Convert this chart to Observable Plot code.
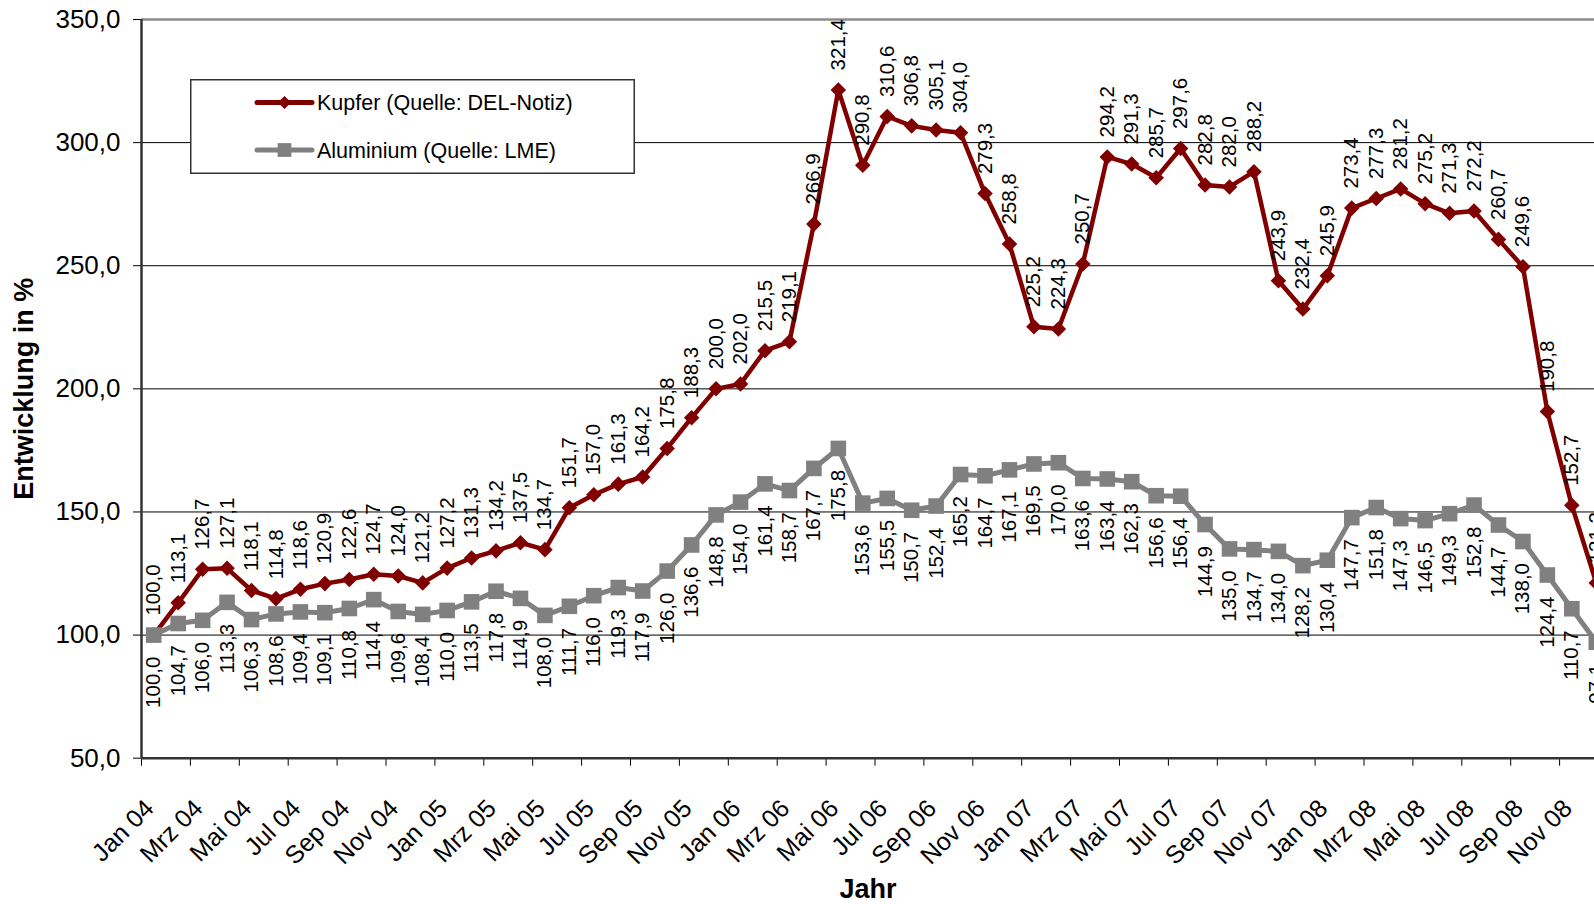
<!DOCTYPE html>
<html><head><meta charset="utf-8">
<script src="https://cdn.jsdelivr.net/npm/d3@7"></script>
<script src="https://cdn.jsdelivr.net/npm/@observablehq/plot@0.6"></script>
<style>
html,body{margin:0;padding:0;background:#fff;overflow:hidden;}
#chart{position:relative;width:1594px;height:904px;font-family:"Liberation Sans",Arial,sans-serif;}
#chart svg{display:block;}
#legend{position:absolute;left:190px;top:79px;}
</style></head><body>
<div id="chart"></div>
<script>
// ---- data ----
const monthNames = ["Jan","Feb","Mrz","Apr","Mai","Jun","Jul","Aug","Sep","Okt","Nov","Dez"];
const years = ["04","05","06","07","08"];
const months = years.flatMap(y => monthNames.map(m => m + " " + y));

const kupfer = [
  100.0,113.1,126.7,127.1,118.1,114.8,118.6,120.9,122.6,124.7,124.0,121.2,
  127.2,131.3,134.2,137.5,134.7,151.7,157.0,161.3,164.2,175.8,188.3,200.0,
  202.0,215.5,219.1,266.9,321.4,290.8,310.6,306.8,305.1,304.0,279.3,258.8,
  225.2,224.3,250.7,294.2,291.3,285.7,297.6,282.8,282.0,288.2,243.9,232.4,
  245.9,273.4,277.3,281.2,275.2,271.3,272.2,260.7,249.6,190.8,152.7,121.2
];
const aluminium = [
  100.0,104.7,106.0,113.3,106.3,108.6,109.4,109.1,110.8,114.4,109.6,108.4,
  110.0,113.5,117.8,114.9,108.0,111.7,116.0,119.3,117.9,126.0,136.6,148.8,
  154.0,161.4,158.7,167.7,175.8,153.6,155.5,150.7,152.4,165.2,164.7,167.1,
  169.5,170.0,163.6,163.4,162.3,156.6,156.4,144.9,135.0,134.7,134.0,128.2,
  130.4,147.7,151.8,147.3,146.5,149.3,152.8,144.7,138.0,124.4,110.7,97.1
];
const yTicks = [50,100,150,200,250,300,350];
const seriesNames = ["Kupfer (Quelle: DEL-Notiz)", "Aluminium (Quelle: LME)"];
const seriesColors = ["#800000", "#808080"];

// ---- build ----
const FONT = '"Liberation Sans", Arial, sans-serif';
const fmt = v => v.toFixed(1).replace(".", ",");
const rows = months.map((m, i) => ({i, m, kupfer: kupfer[i], alu: aluminium[i]}));
const labelRows = rows.filter(d => d.i % 2 === 0);
const boundaries = d3.range(0, months.length + 1, 2).map(k => k - 0.5);

const chart = Plot.plot({
  width: 1594, height: 904,
  marginLeft: 141, marginTop: 19, marginBottom: 146.3, marginRight: 0,
  style: {fontFamily: FONT, background: "white", color: "#000"},
  x: {domain: [-0.5, months.length - 0.5], range: [141, 1608]},
  y: {domain: [50, 350]},
  marks: [
    Plot.gridY(yTicks.filter(v => v > 50 && v < 350), {stroke: "#000", strokeOpacity: 1, strokeWidth: 1}),
    Plot.ruleY([350], {stroke: "#8c8c8c", strokeWidth: 2.5}),
    Plot.axisY(yTicks, {tickSize: 8, tickPadding: 13, fontSize: 26, tickFormat: fmt, label: null, stroke: "#000"}),
    Plot.axisX(boundaries, {tickSize: 8, tickFormat: () => "", label: null, stroke: "#000"}),
    Plot.ruleY([50], {stroke: "#333", strokeWidth: 2.5}),
    Plot.ruleX([-0.5], {stroke: "#333", strokeWidth: 2.5}),
    Plot.text(labelRows, {x: "i", text: "m", frameAnchor: "bottom", lineAnchor: "middle", rotate: -45, textAnchor: "end", dx: -4, dy: 46, fontSize: 25, fill: "#000"}),
    // Kupfer
    Plot.line(rows, {x: "i", y: "kupfer", stroke: seriesColors[0], strokeWidth: 4.5, strokeLinejoin: "round"}),
    Plot.dot(rows, {x: "i", y: "kupfer", symbol: "diamond2", r: 7, fill: seriesColors[0], stroke: "none"}),
    // Aluminium
    Plot.line(rows, {x: "i", y: "alu", stroke: seriesColors[1], strokeWidth: 5, strokeLinejoin: "round"}),
    Plot.dot(rows, {x: "i", y: "alu", symbol: "square", r: 8.8, fill: seriesColors[1], stroke: "none"}),
    // data labels
    Plot.text(rows, {x: "i", y: "kupfer", text: d => fmt(d.kupfer), rotate: -90, textAnchor: "start", dy: -19.5, fontSize: 20.5, fill: "#000"}),
    Plot.text(rows, {x: "i", y: "alu", text: d => fmt(d.alu), rotate: -90, textAnchor: "end", dy: 21.5, fontSize: 20.5, fill: "#000"}),
    // titles
    Plot.text(["Entwicklung in %"], {text: d => d, frameAnchor: "left", textAnchor: "middle", lineAnchor: "middle", rotate: -90, dx: -117, fontSize: 27, fontWeight: "bold", fill: "#000"}),
    Plot.text(["Jahr"], {text: d => d, frameAnchor: "bottom", textAnchor: "middle", lineAnchor: "middle", dy: 131, fontSize: 27, fontWeight: "bold", fill: "#000"})
  ]
});
document.getElementById("chart").appendChild(chart);

// ---- legend ----
const lw = 445, lh = 95;
const leg = d3.select("#chart").append("svg").attr("id", "legend")
  .attr("width", lw).attr("height", lh);
leg.append("rect").attr("x", 0.75).attr("y", 0.75).attr("width", lw - 1.5).attr("height", lh - 1.5)
  .attr("fill", "#fff").attr("stroke", "#333").attr("stroke-width", 1.5);
const items = [
  {name: seriesNames[0], color: seriesColors[0], sym: d3.symbolDiamond2, size: 110, y: 23.5},
  {name: seriesNames[1], color: seriesColors[1], sym: d3.symbolSquare, size: 190, y: 71}
];
items.forEach(it => {
  const g = leg.append("g").attr("transform", `translate(0,${it.y})`);
  g.append("line").attr("x1", 67).attr("x2", 122).attr("stroke", it.color)
    .attr("stroke-width", 5).attr("stroke-linecap", "round");
  g.append("path").attr("transform", "translate(94.5,0)").attr("d", d3.symbol(it.sym, it.size)()).attr("fill", it.color);
  g.append("text").attr("x", 127).attr("dy", "0.35em").attr("font-size", 21.5)
    .attr("font-family", FONT).attr("fill", "#000").text(it.name);
});
</script>
</body></html>
